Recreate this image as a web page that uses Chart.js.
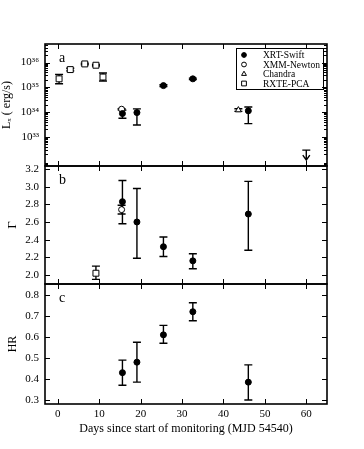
<!DOCTYPE html>
<html>
<head>
<meta charset="utf-8">
<script src="https://cdn.jsdelivr.net/npm/chart.js@4.4.1/dist/chart.umd.min.js"></script>
<style>
  html, body { margin: 0; padding: 0; background: #fff; }
  #wrap { position: relative; width: 364px; height: 449px; }
  canvas { position: absolute; left: 0; }
</style>
</head>
<body>
<div id="wrap">
  <canvas id="cA" width="364" height="176" style="top:0"></canvas>
  <canvas id="cB" width="364" height="134" style="top:156px"></canvas>
  <canvas id="cC" width="364" height="175" style="top:274px"></canvas>
</div>
<script>
// ticks
const xTicks = [0, 10, 20, 30, 40, 50, 60];
const lxTicks = [1e33, 1e34, 1e35, 1e36];
const gammaTicks = [2.0, 2.2, 2.4, 2.6, 2.8, 3.0, 3.2];
const hrTicks = [0.3, 0.4, 0.5, 0.6, 0.7, 0.8];

// XRT-Swift
const xrtDays = [15.6, 19.1, 25.5, 32.6, 46.0];
const xrtLx = [8.7e33, 9.5e33, 1.17e35, 2.2e35, 1.12e34];
const xrtLxLo = [5.6e33, 3.0e33, 1.08e35, 2.05e35, 3.4e33];
const xrtLxHi = [1.2e34, 1.35e34, 1.27e35, 2.35e35, 1.6e34];
const xrtGamma = [2.83, 2.60, 2.32, 2.16, 2.69];
const xrtGammaLo = [2.58, 2.19, 2.21, 2.07, 2.28];
const xrtGammaHi = [3.07, 2.98, 2.43, 2.24, 3.06];
const xrtHR = [0.43, 0.48, 0.61, 0.72, 0.385];
const xrtHRLo = [0.37, 0.385, 0.57, 0.677, 0.30];
const xrtHRHi = [0.49, 0.575, 0.655, 0.763, 0.467];

// XMM-Newton
const xmmDays = [15.4];
const xmmLx = [1.3e34];
const xmmLxLo = [1.22e34];
const xmmLxHi = [1.38e34];
const xmmGamma = [2.74];
const xmmGammaLo = [2.69];
const xmmGammaHi = [2.79];

// Chandra
const chandraDays = [43.6];
const chandraLx = [1.2e34];
const chandraLxLo = [1.07e34];
const chandraLxHi = [1.36e34];

// RXTE-PCA
const rxteDays = [0.3, 3.0, 6.5, 9.2, 10.9];
const rxteLx = [2.2e35, 5.2e35, 8.8e35, 7.8e35, 2.6e35];
const rxteLxLo = [1.4e35, 4.6e35, 8.2e35, 7.3e35, 1.8e35];
const rxteLxHi = [3.3e35, 5.9e35, 9.4e35, 8.3e35, 3.8e35];
const rxteGammaDays = [9.2];
const rxteGamma = [2.02];
const rxteGammaLo = [1.95];
const rxteGammaHi = [2.10];

// upper limit
const ulDays = [60];
const ulLx = [2.9e32];

const SERIF = "'Liberation Serif', 'DejaVu Serif', serif";
const SUP = {'0':'⁰','1':'¹','2':'²','3':'³','4':'⁴','5':'⁵','6':'⁶','7':'⁷','8':'⁸','9':'⁹'};

function pts(xs, ys, lo, hi) {
  return xs.map((x, i) => ({ x: x, y: ys[i], lo: lo ? lo[i] : null, hi: hi ? hi[i] : null }));
}

function mk(label, data, style, filled, radius) {
  return {
    label: label, data: data, pointStyle: style, pointRadius: radius,
    pointHoverRadius: radius, borderColor: '#000', borderWidth: 1,
    backgroundColor: filled ? '#000' : '#fff', showLine: false
  };
}

// vertical error bars with caps, plus the downward arrow for upper limits
const errBars = {
  id: 'errBars',
  beforeDatasetsDraw(chart) {
    const { ctx, scales } = chart;
    ctx.save();
    ctx.strokeStyle = '#000';
    ctx.lineWidth = 1.4;
    chart.data.datasets.forEach(ds => {
      ds.data.forEach(p => {
        if (p.lo == null) return;
        const x = scales.x.getPixelForValue(p.x);
        const y1 = scales.y.getPixelForValue(p.lo);
        const y2 = scales.y.getPixelForValue(p.hi);
        ctx.beginPath();
        ctx.moveTo(x, y1); ctx.lineTo(x, y2);
        ctx.moveTo(x - 4, y1); ctx.lineTo(x + 4, y1);
        ctx.moveTo(x - 4, y2); ctx.lineTo(x + 4, y2);
        ctx.stroke();
      });
      if (ds.upper) {
        ds.data.forEach(p => {
          const x = scales.x.getPixelForValue(p.x);
          const y = scales.y.getPixelForValue(p.y);
          ctx.beginPath();
          ctx.moveTo(x - 4, y); ctx.lineTo(x + 4, y);
          ctx.moveTo(x, y); ctx.lineTo(x, y + 10);
          ctx.moveTo(x - 3.5, y + 5); ctx.lineTo(x, y + 10); ctx.lineTo(x + 3.5, y + 5);
          ctx.stroke();
        });
      }
    });
    ctx.restore();
  }
};

// box, inward ticks, panel letter and legend
const frame = {
  id: 'frame',
  afterDraw(chart, args, opts) {
    const { ctx, chartArea: a, scales } = chart;
    ctx.save();
    ctx.strokeStyle = '#000';
    ctx.lineWidth = 1;
    ctx.beginPath();
    xTicks.forEach(v => {
      const px = Math.round(scales.x.getPixelForValue(v)) + 0.5;
      ctx.moveTo(px, a.top); ctx.lineTo(px, a.top + 5);
      ctx.moveTo(px, a.bottom); ctx.lineTo(px, a.bottom - 5);
    });
    scales.y.ticks.forEach(t => {
      const py = Math.round(scales.y.getPixelForValue(t.value)) + 0.5;
      ctx.moveTo(a.left, py); ctx.lineTo(a.left + 5, py);
      ctx.moveTo(a.right, py); ctx.lineTo(a.right - 5, py);
    });
    (opts.minor || []).forEach(v => {
      const py = Math.round(scales.y.getPixelForValue(v)) + 0.5;
      if (py < a.top || py > a.bottom) return;
      ctx.moveTo(a.left, py); ctx.lineTo(a.left + 3, py);
      ctx.moveTo(a.right, py); ctx.lineTo(a.right - 3, py);
    });
    ctx.stroke();
    ctx.lineWidth = 1.6;
    ctx.strokeRect(a.left, a.top, a.right - a.left, a.bottom - a.top);
    ctx.fillStyle = '#000';
    ctx.font = '14px ' + SERIF;
    ctx.textBaseline = 'middle';
    ctx.fillText(opts.tag, a.left + 14, a.top + 14);

    if (opts.legend) {
      const bx = 236, by = a.top + 4, bw = 87, bh = 41;
      ctx.lineWidth = 1;
      ctx.strokeRect(bx + 0.5, by + 0.5, bw, bh);
      ctx.font = '9.5px ' + SERIF;
      let row = 0;
      chart.data.datasets.forEach(ds => {
        if (ds.upper) return;
        const y = by + 7 + row * 9.5;
        ctx.fillStyle = ds.backgroundColor;
        ctx.strokeStyle = '#000';
        Chart.helpers.drawPoint(ctx, { pointStyle: ds.pointStyle, radius: ds.pointRadius * 0.8, borderWidth: 1, rotation: 0 }, bx + 8, y);
        ctx.fillStyle = '#000';
        ctx.fillText(ds.label, bx + 27, y + 0.5);
        row++;
      });
    }
    ctx.restore();
  }
};

function makeChart(id, datasets, yScale, frameOpts, showX, padding) {
  return new Chart(document.getElementById(id), {
    type: 'scatter',
    data: { datasets: datasets },
    options: {
      responsive: false,
      animation: false,
      devicePixelRatio: 1,
      layout: { padding: padding },
      plugins: { legend: { display: false }, tooltip: { enabled: false }, frame: frameOpts },
      scales: {
        x: {
          type: 'linear', min: -3.1, max: 65,
          display: showX,
          afterBuildTicks: s => { s.ticks = xTicks.map(v => ({ value: v })); },
          afterFit: s => { if (showX) s.height = 40; s.paddingLeft = 0; s.paddingRight = 0; },
          grid: { display: false, drawTicks: false },
          border: { display: false },
          ticks: { color: '#000', padding: 4, font: { family: SERIF, size: 11 } },
          title: {
            display: true, text: 'Days since start of monitoring (MJD 54540)',
            color: '#000', font: { family: SERIF, size: 12 }, padding: { top: 0, bottom: 8 }
          }
        },
        y: Object.assign({
          afterFit: s => { s.width = 45; s.paddingTop = 0; s.paddingBottom = 0; },
          grid: { display: false, drawTicks: false },
          border: { display: false },
        }, yScale)
      }
    },
    plugins: [errBars, frame]
  });
}

// minor ticks for the log axis
const lxMinor = [];
[31, 32, 33, 34, 35, 36].forEach(d => { for (let k = 2; k <= 9; k++) lxMinor.push(k * Math.pow(10, d)); });

makeChart('cA', [
  mk('XRT-Swift', pts(xrtDays, xrtLx, xrtLxLo, xrtLxHi), 'circle', true, 3),
  mk('XMM-Newton', pts(xmmDays, xmmLx, xmmLxLo, xmmLxHi), 'circle', false, 3),
  mk('Chandra', pts(chandraDays, chandraLx, chandraLxLo, chandraLxHi), 'triangle', false, 3.5),
  mk('RXTE-PCA', pts(rxteDays, rxteLx, rxteLxLo, rxteLxHi), 'rect', false, 4.2),
  Object.assign(mk('upper limit', pts(ulDays, ulLx), 'circle', true, 0), { upper: true })
], {
  type: 'logarithmic', min: Math.pow(10, 31.82), max: Math.pow(10, 36.75),
  afterBuildTicks: s => { s.ticks = lxTicks.map(v => ({ value: v })); },
  ticks: {
    color: '#000', padding: 6, font: { family: SERIF, size: 11 },
    callback: v => '10' + String(Math.round(Math.log10(v))).split('').map(c => SUP[c]).join('')
  },
  title: { display: true, text: 'Lₓ ( erg/s)', color: '#000', font: { family: SERIF, size: 12 }, padding: { top: 0, bottom: 0 } }
}, { tag: 'a', minor: lxMinor, legend: true }, false, { top: 44, bottom: 10, left: 0, right: 37 });

makeChart('cB', [
  mk('XRT-Swift', pts(xrtDays, xrtGamma, xrtGammaLo, xrtGammaHi), 'circle', true, 3),
  mk('XMM-Newton', pts(xmmDays, xmmGamma, xmmGammaLo, xmmGammaHi), 'circle', false, 3),
  mk('RXTE-PCA', pts(rxteGammaDays, rxteGamma, rxteGammaLo, rxteGammaHi), 'rect', false, 4.2)
], {
  type: 'linear', min: 1.898, max: 3.234,
  afterBuildTicks: s => { s.ticks = gammaTicks.map(v => ({ value: v })); },
  ticks: { color: '#000', padding: 6, font: { family: SERIF, size: 11 }, callback: v => v.toFixed(1) },
  title: { display: true, text: 'Γ', color: '#000', font: { family: SERIF, size: 13 }, padding: { top: 5, bottom: 0 } }
}, { tag: 'b' }, false, { top: 10, bottom: 6, left: 0, right: 37 });

makeChart('cC', [
  mk('XRT-Swift', pts(xrtDays, xrtHR, xrtHRLo, xrtHRHi), 'circle', true, 3)
], {
  type: 'linear', min: 0.281, max: 0.852,
  afterBuildTicks: s => { s.ticks = hrTicks.map(v => ({ value: v })); },
  ticks: { color: '#000', padding: 6, font: { family: SERIF, size: 11 }, callback: v => v.toFixed(1) },
  title: { display: true, text: 'HR', color: '#000', font: { family: SERIF, size: 12 }, padding: { top: 6, bottom: 0 } }
}, { tag: 'c' }, true, { top: 10, bottom: 5, left: 0, right: 37 });
</script>
</body>
</html>
